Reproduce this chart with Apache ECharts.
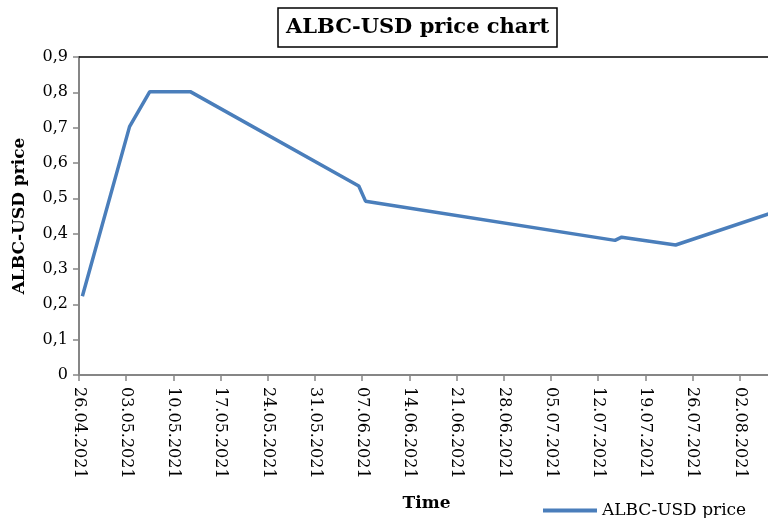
<!DOCTYPE html>
<html>
<head>
<meta charset="utf-8">
<script src="https://cdn.jsdelivr.net/npm/echarts@6/dist/echarts.min.js"></script>
<style>
html,body{margin:0;padding:0;background:#fff;}
#chart{width:768px;height:518px;}
</style>
</head>
<body>
<div id="chart"></div>
<script>
// Data
const startDate = '2021-04-26';
const pointDates = ['2021-04-26 12', '2021-05-03 12', '2021-05-06 12', '2021-05-12 12', '2021-06-06 12', '2021-06-07 12', '2021-07-14 12', '2021-07-15 12', '2021-07-23 12', '2021-08-06 12'];
const priceValues = [0.223, 0.703, 0.802, 0.802, 0.535, 0.492, 0.381, 0.390, 0.368, 0.457];
const tickLabels = ['26.04.2021', '03.05.2021', '10.05.2021', '17.05.2021', '24.05.2021', '31.05.2021', '07.06.2021', '14.06.2021', '21.06.2021', '28.06.2021', '05.07.2021', '12.07.2021', '19.07.2021', '26.07.2021', '02.08.2021'];
const seriesName = 'ALBC-USD price';
const visibleDays = 102.2; // the picture is cut at the right edge around 06.08.2021

function toUTC(s) {
  const [d, h] = s.split(' ');
  const [y, m, dd] = d.split('-').map(Number);
  return Date.UTC(y, m - 1, dd, h ? Number(h) : 0);
}
const t0 = toUTC(startDate);
const seriesData = pointDates.map((s, i) => [(toUTC(s) - t0) / 86400000, priceValues[i]]);

const FONT = 'DejaVu Serif';
const chart = echarts.init(document.getElementById('chart'), null, {renderer: 'canvas'});
chart.setOption({
  animation: false,
  backgroundColor: '#fff',
  title: {
    text: 'ALBC-USD price chart',
    left: 278,
    top: 8,
    padding: [9, 8, 9, 8],
    borderColor: '#000',
    borderWidth: 1.5,
    textStyle: {fontFamily: FONT, fontWeight: 'bold', fontSize: 21, color: '#000'}
  },
  legend: {
    data: [seriesName],
    left: 538,
    top: 497,
    icon: 'rect',
    itemWidth: 54,
    itemHeight: 4,
    itemGap: 5,
    textStyle: {fontFamily: FONT, fontSize: 17, color: '#000'}
  },
  grid: {
    left: 79,
    top: 57,
    bottom: 143,
    right: 0,
    show: false
  },
  xAxis: [{
    type: 'value',
    min: 0,
    max: visibleDays,
    interval: 7,
    name: 'Time',
    nameLocation: 'middle',
    nameGap: 120,
    nameTextStyle: {fontFamily: FONT, fontWeight: 'bold', fontSize: 17, color: '#000', padding: [0, 0, 0, 6]},
    axisLine: {show: true, lineStyle: {color: '#868686', width: 2}},
    axisTick: {show: true, length: 6, lineStyle: {color: '#868686', width: 1.5}},
    splitLine: {show: false},
    axisLabel: {
      rotate: -90,
      margin: 12,
      fontFamily: FONT,
      fontSize: 16,
      color: '#000',
      showMaxLabel: false,
      formatter: v => tickLabels[Math.round(v / 7)] || ''
    }
  }, {
    type: 'value',
    position: 'top',
    min: 0,
    max: visibleDays,
    axisLine: {show: true, lineStyle: {color: '#000', width: 1.5}},
    axisTick: {show: false},
    axisLabel: {show: false},
    splitLine: {show: false}
  }],
  yAxis: {
    type: 'value',
    min: 0,
    max: 0.9,
    interval: 0.1,
    name: 'ALBC-USD price',
    nameLocation: 'middle',
    nameGap: 51,
    nameTextStyle: {fontFamily: FONT, fontWeight: 'bold', fontSize: 17, color: '#000'},
    axisLine: {show: true, lineStyle: {color: '#868686', width: 2}},
    axisTick: {show: true, length: 6, lineStyle: {color: '#868686', width: 1.5}},
    splitLine: {show: false},
    axisLabel: {
      margin: 11,
      fontFamily: FONT,
      fontSize: 16,
      color: '#000',
      formatter: v => (v === 0 ? '0' : v.toFixed(1).replace('.', ','))
    }
  },
  series: [{
    name: seriesName,
    type: 'line',
    xAxisIndex: 0,
    data: seriesData,
    showSymbol: false,
    symbol: 'none',
    lineStyle: {color: '#4A7EBB', width: 3.5},
    itemStyle: {color: '#4A7EBB'},
    clip: true
  }]
});
</script>
</body>
</html>
